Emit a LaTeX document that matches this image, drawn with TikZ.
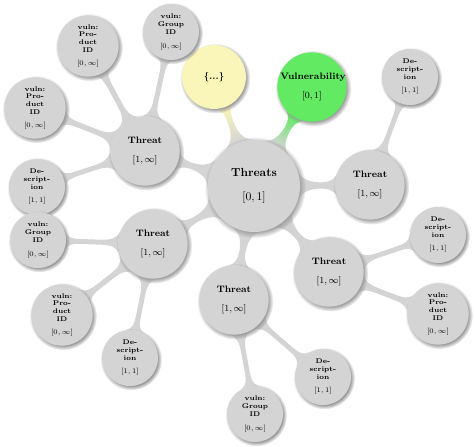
\documentclass[tikz,border=0pt]{standalone}
\usetikzlibrary{mindmap,shadows,backgrounds}
\definecolor{conceptgray}{RGB}{212,212,212}
\definecolor{vulngreen}{RGB}{98,234,98}
\definecolor{etcyellow}{RGB}{250,246,186}
\begin{document}
\begin{tikzpicture}[x=0.03cm,y=-0.03cm,
    every node/.style={circle,fill=conceptgray,align=center,inner sep=0pt,
      circular drop shadow={shadow xshift=0.9pt,shadow yshift=-1.1pt,fill=black!40}},
    rootnode/.style={minimum size=2.76cm,text width=2.3cm,font=\normalsize},
    threatnode/.style={minimum size=2.04cm,text width=1.9cm,font=\footnotesize},
    leafnode/.style={minimum size=1.5cm,text width=1.3cm,font=\fontsize{5.8}{6.6}\selectfont},
    idnode/.style={minimum size=1.7cm,text width=1.3cm,font=\fontsize{5.8}{6.6}\selectfont},
    bar/.style={circle connection bar switch color=from (conceptgray) to (conceptgray),line width=#1},
    bar/.default=5pt]
    \useasboundingbox (0,0) rectangle (474,446);
    % centre and first ring
    \node [rootnode] (threats) at (254,186) {\textbf{Threats}\\[8pt]$[0,1]$};
    \node [threatnode,fill=etcyellow,minimum size=1.8cm] (etc) at (214,77) {\textbf{\{...\}}};
    \node [threatnode,fill=vulngreen] (vuln) at (312,87) {\textbf{Vulnerability}\\[7pt]$[0,1]$};
    \node [threatnode] (threatR) at (370,185) {\textbf{Threat}\\[7pt]$[1,\infty]$};
    \node [threatnode] (threatUL) at (145,151) {\textbf{Threat}\\[7pt]$[1,\infty]$};
    \node [threatnode] (threatLL) at (153,244) {\textbf{Threat}\\[7pt]$[1,\infty]$};
    \node [threatnode] (threatB) at (234,300) {\textbf{Threat}\\[7pt]$[1,\infty]$};
    \node [threatnode] (threatLR) at (329,272) {\textbf{Threat}\\[7pt]$[1,\infty]$};
    % leaves
    \node [leafnode] (descR) at (410,77) {\textbf{De-\\script-\\ion}\\[5pt]$[1,1]$};
    \node [idnode] (prodUL) at (88,46) {\textbf{vuln:\\Pro-\\duct\\ID}\\[5pt]$[0,\infty]$};
    \node [leafnode,minimum size=1.56cm] (groupUL) at (171,32) {\textbf{vuln:\\Group\\ID}\\[5pt]$[0,\infty]$};
    \node [idnode] (prodL) at (35,108) {\textbf{vuln:\\Pro-\\duct\\ID}\\[5pt]$[0,\infty]$};
    \node [leafnode] (descL) at (37,187) {\textbf{De-\\script-\\ion}\\[5pt]$[1,1]$};
    \node [leafnode] (groupLL) at (38,240) {\textbf{vuln:\\Group\\ID}\\[5pt]$[0,\infty]$};
    \node [idnode] (prodLL) at (62,315) {\textbf{vuln:\\Pro-\\duct\\ID}\\[5pt]$[0,\infty]$};
    \node [leafnode] (descLL) at (130,358) {\textbf{De-\\script-\\ion}\\[5pt]$[1,1]$};
    \node [leafnode] (descB) at (323,377) {\textbf{De-\\script-\\ion}\\[5pt]$[1,1]$};
    \node [leafnode] (groupB) at (255,414) {\textbf{vuln:\\Group\\ID}\\[5pt]$[0,\infty]$};
    \node [leafnode] (descLR) at (438,235) {\textbf{De-\\script-\\ion}\\[5pt]$[1,1]$};
    \node [idnode] (prodLR) at (438,314) {\textbf{vuln:\\Pro-\\duct\\ID}\\[5pt]$[0,\infty]$};
    \begin{scope}[on background layer]
        \path (threats) to[circle connection bar switch color=from (conceptgray) to (etcyellow),line width=7pt] (etc);
        \path (threats) to[circle connection bar switch color=from (conceptgray) to (vulngreen),line width=7pt] (vuln);
        \foreach \t in {threatR,threatUL,threatLL,threatB,threatLR}
            \path (threats) to[bar=7pt] (\t);
        \path (threatR) to[bar] (descR);
        \foreach \l in {prodUL,groupUL,prodL,descL}
            \path (threatUL) to[bar] (\l);
        \foreach \l in {groupLL,prodLL,descLL}
            \path (threatLL) to[bar] (\l);
        \path (threatB) to[bar] (descB);
        \path (threatB) to[bar] (groupB);
        \path (threatLR) to[bar] (descLR);
        \path (threatLR) to[bar] (prodLR);
    \end{scope}
\end{tikzpicture}
\end{document}
